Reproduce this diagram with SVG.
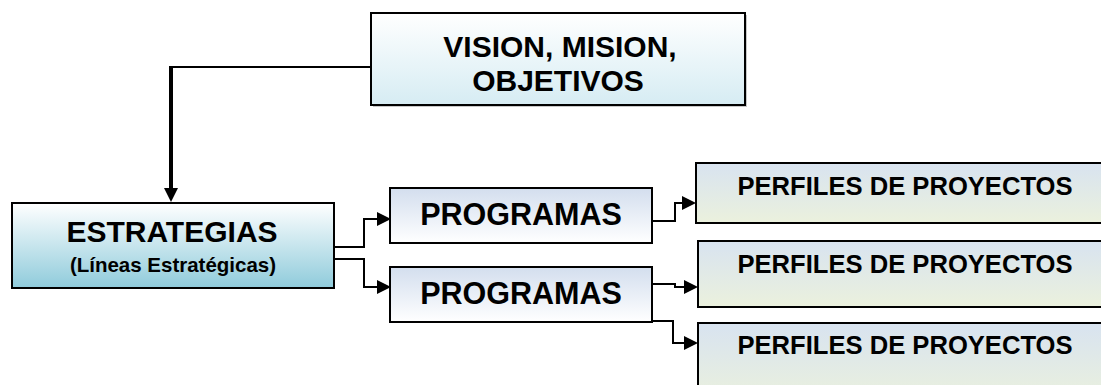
<svg xmlns="http://www.w3.org/2000/svg" width="1101" height="385" viewBox="0 0 1101 385">
<style>
.box{stroke:#000;stroke-width:2}
.t{font-family:"Liberation Sans",Arial,sans-serif;font-weight:bold;fill:#000}
.c{fill:none;stroke:#000;stroke-width:2}
.thick{stroke-width:4}
</style>
<defs>
<linearGradient id="gVis" x1="0" y1="0" x2="0" y2="1"><stop offset="0" stop-color="#ffffff"/><stop offset="1" stop-color="#d6ecf3"/></linearGradient>
<linearGradient id="gEst" x1="0" y1="0" x2="0" y2="1"><stop offset="0" stop-color="#ffffff"/><stop offset="1" stop-color="#8fcbdb"/></linearGradient>
<linearGradient id="gPro" x1="0" y1="0" x2="0" y2="1"><stop offset="0" stop-color="#d3deee"/><stop offset="1" stop-color="#ffffff"/></linearGradient>
<linearGradient id="gPer" x1="0" y1="0" x2="0" y2="1"><stop offset="0" stop-color="#d8e3f0"/><stop offset="1" stop-color="#ebf1dd"/></linearGradient>
<marker id="arr" markerUnits="userSpaceOnUse" markerWidth="14" markerHeight="14" refX="0" refY="7" orient="auto" viewBox="0 0 14 14">
<path d="M0,0 L14,7 L0,14 z" fill="#000"/>
</marker>
</defs>
<g id="connectors">
<path class="c" d="M372,67 H170"/>
<path class="c thick" d="M171,66 V188" marker-end="url(#arr)"/>
<path class="c" d="M334,247 H364 V219 H377" marker-end="url(#arr)"/>
<path class="c" d="M334,259 H364 V287 H377" marker-end="url(#arr)"/>
<path class="c" d="M652,221 H675 V203 H682" marker-end="url(#arr)"/>
<path class="c" d="M652,284 H675 V287 H684" marker-end="url(#arr)"/>
<path class="c" d="M652,321 H673 V343 H684" marker-end="url(#arr)"/>
</g>
<g id="vision">
<rect x="373" y="15" width="374" height="92" fill="#c8c8c8"/>
<rect class="box" x="371" y="13" width="374" height="92" fill="url(#gVis)"/>
<text class="t" x="560" y="57" font-size="30" text-anchor="middle">VISION, MISION,</text>
<text class="t" x="558" y="91" font-size="30" text-anchor="middle">OBJETIVOS</text>
</g>
<g id="estrategias">
<rect class="box" x="12" y="203" width="322" height="85" fill="url(#gEst)"/>
<text class="t" x="172" y="242" font-size="30" text-anchor="middle">ESTRATEGIAS</text>
<text class="t" x="173" y="272" font-size="20.5" text-anchor="middle">(Líneas Estratégicas)</text>
</g>
<g id="programas1">
<rect class="box" x="390" y="188" width="262" height="55" fill="url(#gPro)"/>
<text class="t" x="521" y="225" font-size="30.5" text-anchor="middle">PROGRAMAS</text>
</g>
<g id="programas2">
<rect class="box" x="390" y="267" width="262" height="55" fill="url(#gPro)"/>
<text class="t" x="521" y="304" font-size="30.5" text-anchor="middle">PROGRAMAS</text>
</g>
<g id="perfiles1">
<rect class="box" x="696" y="163" width="420" height="60" fill="url(#gPer)"/>
<text class="t" x="905" y="195" font-size="25.6" text-anchor="middle">PERFILES DE PROYECTOS</text>
</g>
<g id="perfiles2">
<rect class="box" x="698" y="241" width="420" height="66" fill="url(#gPer)"/>
<text class="t" x="905" y="273" font-size="25.6" text-anchor="middle">PERFILES DE PROYECTOS</text>
</g>
<g id="perfiles3">
<rect class="box" x="698" y="323" width="420" height="80" fill="url(#gPer)"/>
<text class="t" x="905" y="354" font-size="25.6" text-anchor="middle">PERFILES DE PROYECTOS</text>
</g>
</svg>
